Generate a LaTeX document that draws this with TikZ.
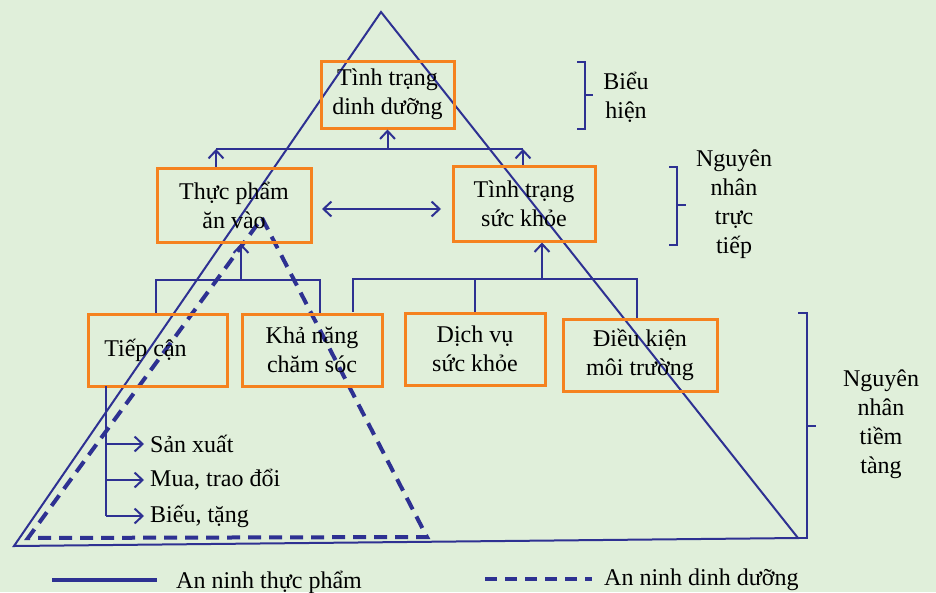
\documentclass[tikz,border=0pt]{standalone}
\usepackage{fontspec}
\setmainfont{Liberation Serif}
\usetikzlibrary{arrows.meta,positioning}
\definecolor{bggreen}{HTML}{E0EFDA}
\definecolor{lineblue}{HTML}{2E3192}
\definecolor{boxorange}{HTML}{F5821F}
\tikzset{box/.style={draw=boxorange,line width=3pt,align=center,inner sep=0pt,font=\fontsize{24}{29}\selectfont},
  txt/.style={align=center,inner sep=0pt,font=\fontsize{24}{29}\selectfont},
  link/.style={draw=lineblue,line width=1.5pt},
  up/.style={draw=lineblue,line width=2pt,-{Straight Barb[length=8pt,width=15pt]}},
  tri/.style={draw=lineblue,line width=2pt,line join=miter},
  dtri/.style={draw=lineblue,line width=4pt,dash pattern=on 13pt off 8pt}}
\begin{document}
\begin{tikzpicture}[x=1pt,y=-1pt]
\useasboundingbox[fill=bggreen] (0,0) rectangle (936,592);
% pyramids
\draw[tri] (381,12) -- (798,538) -- (14,546) -- cycle;
\draw[dtri] (262,218) -- (427,537) -- (28,538) -- cycle;
% boxes
\node[box,minimum width=133pt,minimum height=67pt] (ttdd) at (387.5,94.5) {Tình trạng\\dinh dưỡng};
\node[box,minimum width=154pt,minimum height=74pt] (tpav) at (234,205) {Thực phẩm\\ăn vào};
\node[box,minimum width=142pt,minimum height=75pt] (ttsk) at (524,203.5) {Tình trạng\\sức khỏe};
\node[box,minimum width=139pt,minimum height=72pt] (tc) at (157.5,350) {Tiếp cận\hspace{24pt}};
\node[box,minimum width=140pt,minimum height=72pt] (kncs) at (312,350) {Khả năng\\chăm sóc};
\node[box,minimum width=140pt,minimum height=72pt] (dvsk) at (475,349) {Dịch vụ\\sức khỏe};
\node[box,minimum width=154pt,minimum height=72pt] (dkmt) at (640,355) {Điều kiện\\môi trường};
% top level links
\coordinate (jl) at (216,149);
\coordinate (jr) at (523,149);
\draw[link] (jl) -- (jr);
\draw[up] (jl |- tpav.north) -- (jl);
\draw[up] (jr |- ttsk.north) -- (jr);
\draw[up] (ttdd.south |- jl) -- (ttdd.south);
\draw[draw=lineblue,line width=2pt,{Straight Barb[length=8pt,width=15pt]}-{Straight Barb[length=8pt,width=15pt]}] (322,209) -- (441,209);
% lower links
\coordinate (ll) at (156,280);
\coordinate (lr) at (320,280);
\draw[link] (ll |- tc.north) -- (ll) -- (lr) -- (lr |- kncs.north);
\draw[up] (241,280) -- (tpav.south -| 241,0);
\coordinate (rl) at (353,279);
\coordinate (rr) at (637,279);
\draw[link] (rl |- dvsk.north) -- (rl) -- (rr) -- (rr |- dkmt.north);
\draw[link] (dvsk.north) -- (dvsk.north |- rl);
\draw[up] (542,279) -- (ttsk.south -| 542,0);
% access list
\node[txt,anchor=west] (sx) at (150,444) {Sản xuất};
\node[txt,anchor=west] (mua) at (150,480) {Mua, trao đổi};
\node[txt,anchor=west] (bieu) at (150,516) {Biếu, tặng};
\coordinate (tcb) at (106,386);
\draw[link] (tcb) -- (tcb |- bieu);
\foreach \n in {sx,mua,bieu}
  \draw[up] (tcb |- \n) -- ([xshift=-6pt]\n.west);
% brackets
\node[txt] (bh) at (626,97) {Biểu\\hiện};
\draw[link] (577,62) -- (585,62) -- (585,129) -- (577,129);
\draw[link] (585,95) -- (593,95);
\node[txt] (nntt) at (734,204) {Nguyên\\nhân\\trực\\tiếp};
\draw[link] (669,167) -- (677,167) -- (677,245) -- (669,245);
\draw[link] (677,205) -- (686,205);
\node[txt] (nnta) at (881,424) {Nguyên\\nhân\\tiềm\\tàng};
\draw[link] (798,313) -- (807,313) -- (807,538) -- (798,538);
\draw[link] (807,426) -- (816,426);
% legend
\draw[draw=lineblue,line width=4pt] (52,580) -- (157,580);
\node[txt,anchor=west] (lg1) at (176,582) {An ninh thực phẩm};
\draw[draw=lineblue,line width=4pt,dash pattern=on 12pt off 8pt] (485,579) -- (592,579);
\node[txt,anchor=west] (lg2) at (604,580) {An ninh dinh dưỡng};
\end{tikzpicture}
\end{document}
